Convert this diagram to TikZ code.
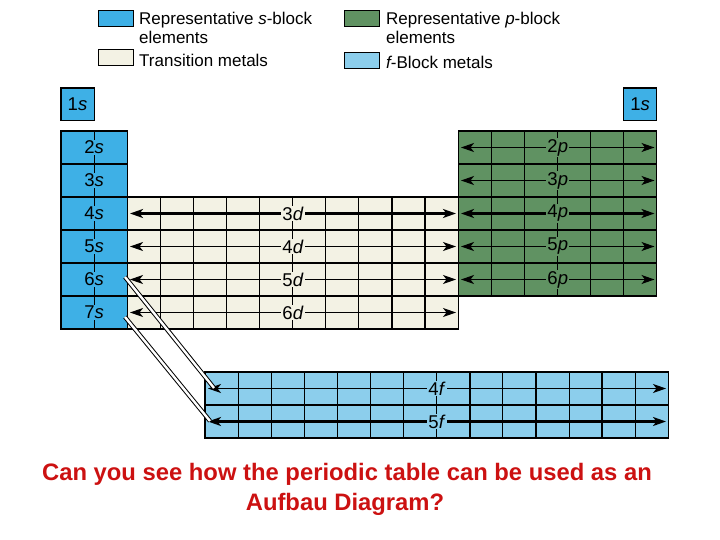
\documentclass[tikz,border=0pt]{standalone}
\usepackage{fontspec}
\setmainfont{Liberation Sans}
\usetikzlibrary{arrows.meta}
\definecolor{sblue}{RGB}{62,176,230}
\definecolor{fblue}{RGB}{140,206,236}
\definecolor{pgreen}{RGB}{96,146,98}
\definecolor{tcream}{RGB}{243,242,228}
\definecolor{qred}{RGB}{204,17,17}

\begin{document}
\begin{tikzpicture}[x=1pt,y=-1pt,
	grd/.style={line width=1.1pt},
	orb/.style={line width=1.1pt,{Stealth[length=13pt,width=9pt,inset=3.5pt]}-{Stealth[length=13pt,width=9pt,inset=3.5pt]}},
	orbb/.style={orb,line width=2.2pt},
	lbl/.style={font=\fontsize{18.5}{21}\selectfont,inner sep=1pt},
	leg/.style={font=\fontsize{17}{19}\selectfont,anchor=west,inner sep=0pt},
	diag/.style={double,line width=1pt,double distance=2.4pt}]
		\useasboundingbox (0,0) rectangle (720,540);
		%Leyenda
		\draw [line width=1pt, fill=sblue](98,11) rectangle (133,27);
		\draw [line width=1pt, fill=tcream](98,50) rectangle (133,66);
		\draw [line width=1pt, fill=pgreen](344,11) rectangle (379,27);
		\draw [line width=1pt, fill=fblue](344,53) rectangle (379,69);
		\node [leg] (legs) at (139,20) {Representative \textit{s}-block};
		\node [leg] (legs2) at (139,37) {elements};
		\node [leg] (legt) at (139,60) {Transition metals};
		\node [leg] (legp) at (386,20) {Representative \textit{p}-block};
		\node [leg] (legp2) at (386,37) {elements};
		\node [leg] (legf) at (386,62) {\textit{f}\kern-1.5pt-Block metals};
		
		%1s
		\draw [grd, fill=sblue](61,88) rectangle (94.1,120.5);
		\draw [grd, fill=sblue](623.7,88) rectangle (656.8,120.5);
		\node [lbl] (h1) at (77.5,104.3) {1\textit{s}};
		\node [lbl] (h2) at (640.2,104.3) {1\textit{s}};
		
		%Bloque s
		\fill [sblue](61,131) rectangle (127.2,329);
		\foreach \y in {164,197,230,263,296} \draw [grd](61,\y)--(127.2,\y);
		\draw [grd](94.1,131)--(94.1,329);
		\draw [grd](61,131) rectangle (127.2,329);
		\foreach \n in {2,...,7}
			\node [lbl, fill=sblue] (s\n) at (94.1,{147.5+33*(\n-2)}) {\n\textit{s}};
		
		%Bloque d
		\fill [tcream](127.2,197) rectangle (458.2,329);
		\foreach \i in {1,...,9} \draw [grd]({127.2+33.1*\i},197)--({127.2+33.1*\i},329);
		\foreach \y in {230,263,296} \draw [grd](127.2,\y)--(458.2,\y);
		\draw [line width=2pt](425.1,197)--(425.1,329);
		\draw [grd](127.2,197) rectangle (458.2,329);
		\foreach \n/\r/\s in {3/0/orbb,4/1/orb,5/2/orb,6/3/orb}{
			\coordinate (d\n w) at (130,{213.5+33*\r});
			\coordinate (d\n e) at (456,{213.5+33*\r});
			\draw [\s](d\n w)--(d\n e) node [midway, lbl, fill=tcream] (l\n d) {\n\textit{d}};
		}
		
		%Bloque p
		\fill [pgreen](458.2,131) rectangle (656.8,296);
		\foreach \i in {1,...,5} \draw [grd]({458.2+33.1*\i},131)--({458.2+33.1*\i},296);
		\foreach \y in {164,197,230,263} \draw [grd](458.2,\y)--(656.8,\y);
		\draw [grd](458.2,131) rectangle (656.8,296);
		\foreach \n/\r/\s in {2/0/orb,3/1/orb,4/2/orbb,5/3/orb,6/4/orb}{
			\coordinate (p\n w) at (461,{147.5+33*\r});
			\coordinate (p\n e) at (654.5,{147.5+33*\r});
			\draw [\s](p\n w)--(p\n e) node [midway, lbl, fill=pgreen] (l\n p) {\n\textit{p}};
		}
		
		%Bloque f
		\fill [fblue](205,372) rectangle (668.4,438);
		\foreach \i in {1,...,13} \draw [grd]({205+33.1*\i},372)--({205+33.1*\i},438);
		\draw [line width=2pt](469.8,372)--(469.8,438);
		\draw [line width=2pt](602.2,372)--(602.2,438);
		\draw [grd](205,405)--(668.4,405);
		\draw [grd](205,372) rectangle (668.4,438);
		\foreach \n/\r/\s in {4/0/orb,5/1/orbb}{
			\coordinate (f\n w) at (208,{388.5+33*\r});
			\coordinate (f\n e) at (666,{388.5+33*\r});
			\draw [\s](f\n w)--(f\n e) node [midway, lbl, fill=fblue] (l\n f) {\n\textit{f}};
		}
		
		%Diagonales
		\coordinate (a6) at (125,277);
		\coordinate (b4) at (214,388);
		\coordinate (a7) at (125,317);
		\coordinate (b5) at (210,421);
		\draw [diag](a6)--(b4);
		\draw [diag](a7)--(b5);
		
		%Pregunta
		\node [text=qred, font=\bfseries\fontsize{23.8}{26}\selectfont] (q1) at (347,474) {Can you see how the periodic table can be used as an};
		\node [text=qred, font=\bfseries\fontsize{23.8}{26}\selectfont] (q2) at (345,504) {Aufbau Diagram?};
	\end{tikzpicture}
\end{document}
